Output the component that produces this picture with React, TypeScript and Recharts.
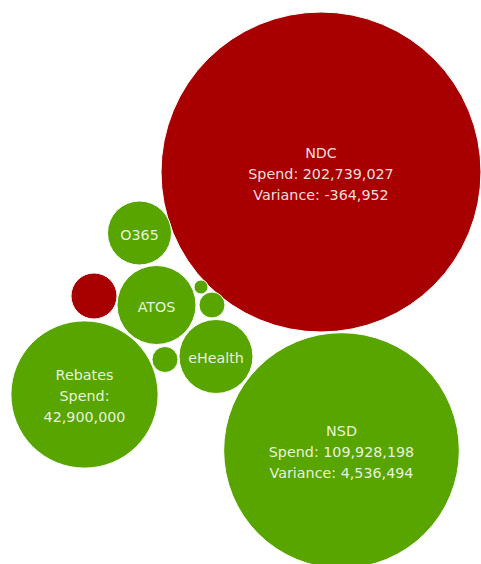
import { ScatterChart, Scatter, XAxis, YAxis, ZAxis } from "recharts";

// bubble names, spend and variance (only shown where the label has room)
const names = ["NDC", "NSD", "Rebates", "ATOS", "eHealth", "O365", "Other A", "Other B", "Other C", "Other D"];
const spend = [202739027, 109928198, 42900000, 12360000, 10840000, 8110000, 4190000, 1340000, 1340000, 390000];
const variance = [-364952, 4536494, 0, 0, 0, 0, 0, 0, 0, 0];
const overspent = [true, false, false, false, false, false, true, false, false, false];
const labelDetail = ["full", "full", "spend", "name", "name", "name", "none", "none", "none", "none"];

// packed layout positions
const packX = [321, 341.5, 84.5, 156.5, 216, 139.5, 94, 212, 165, 201];
const packY = [172, 450.5, 394.5, 305, 356.5, 233, 296, 305, 359.5, 287];

const W = 481;
const H = 564;
const RED = "#a80000";
const GREEN = "#58a500";

const rows = names.map((name, i) => ({
    name,
    x: packX[i],
    y: packY[i],
    spend: spend[i],
    variance: variance[i],
    overspent: overspent[i],
    detail: labelDetail[i],
}));

const fmt = (v: number) => v.toLocaleString("en-US");

function labelLines(row: any): string[] {
    if (row.detail === "full") return [row.name, `Spend: ${fmt(row.spend)}`, `Variance: ${fmt(row.variance)}`];
    if (row.detail === "spend") return [row.name, "Spend:", fmt(row.spend)];
    if (row.detail === "name") return [row.name];
    return [];
}

const renderBubble = (props: any) => {
    const { cx, cy, width, payload } = props;
    const r = width / 2;
    const lines = labelLines(payload);
    return (
        <g>
            <circle cx={cx} cy={cy} r={r} fill={payload.overspent ? RED : GREEN} stroke="#ffffff" strokeWidth={1} />
            {lines.map((line, i) => (
                <text
                    key={i}
                    x={cx}
                    y={cy + 1.5 + (i - (lines.length - 1) / 2) * 21}
                    textAnchor="middle"
                    dominantBaseline="central"
                    fontFamily="'DejaVu Sans', Verdana, sans-serif"
                    fontSize={14.3}
                    fill="#ffffff"
                    fillOpacity={0.88}
                >
                    {line}
                </text>
            ))}
        </g>
    );
};

export default function App() {
    return (
        <div style={{ position: "absolute", left: 0, top: 0, width: W, height: H, background: "#fff" }}>
            <ScatterChart width={W} height={H} margin={{ top: 0, right: 0, bottom: 0, left: 0 }}>
                <XAxis type="number" dataKey="x" domain={[0, W]} allowDataOverflow hide />
                <YAxis type="number" dataKey="y" domain={[0, H]} allowDataOverflow reversed hide />
                <ZAxis type="number" dataKey="spend" domain={[0, "dataMax"]} range={[0, Math.PI * 160 * 160]} />
                <Scatter data={rows} shape={renderBubble} isAnimationActive={false} />
            </ScatterChart>
        </div>
    );
}
